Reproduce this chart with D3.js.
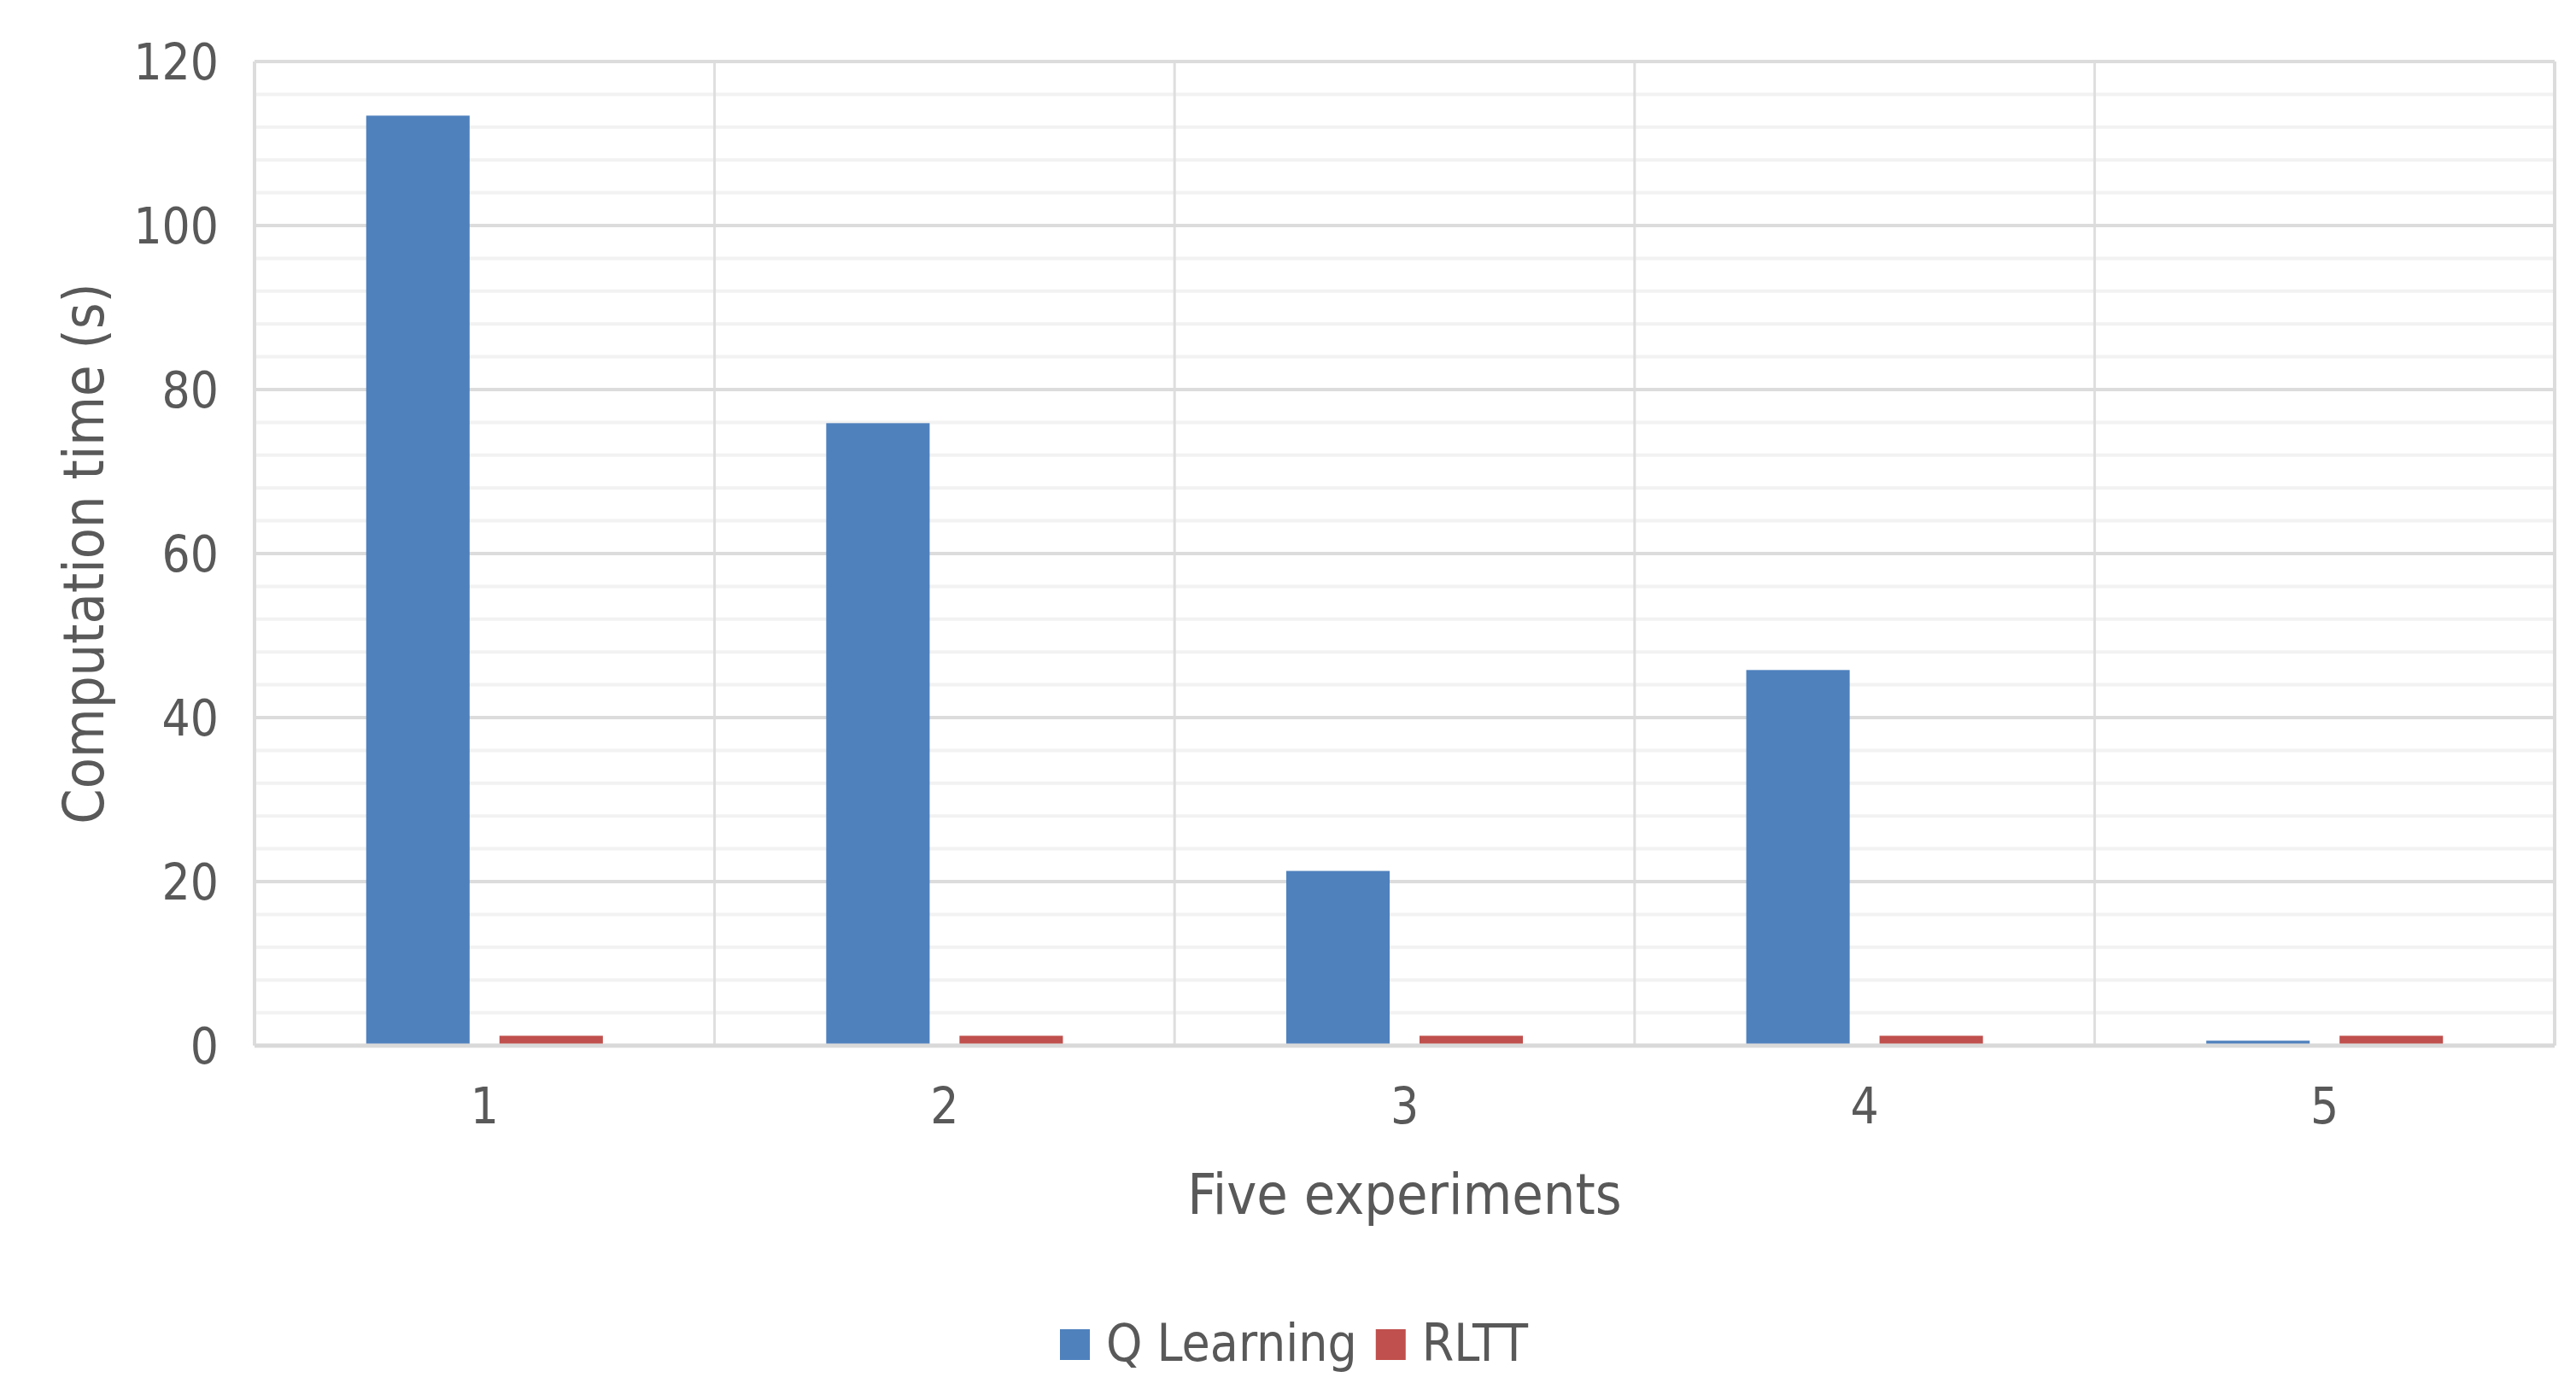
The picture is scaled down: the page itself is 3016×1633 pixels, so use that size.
<!DOCTYPE html>
<html>
<head>
    <script src="https://cdnjs.cloudflare.com/ajax/libs/d3/7.8.5/d3.min.js"></script>
    <style>
        body { margin: 0; background: #fff; }
        svg { display: block; }
        text {
            font-family: "DejaVu Sans Condensed", "Liberation Sans", sans-serif;
            fill: #595959;
        }
    </style>
</head>
<body>
    <svg width="3016" height="1633"></svg>
    <script>
        // Data
        const experiments = ["1", "2", "3", "4", "5"];
        const seriesNames = ["Q Learning", "RLTT"];
        const qLearning = [113.4, 75.9, 21.3, 45.8, 0.6];
        const rltt = [1.2, 1.2, 1.2, 1.2, 1.2];
        const yTicks = [0, 20, 40, 60, 80, 100, 120];
        const colors = ["#4f81bd", "#c0504d"];

        const svg = d3.select("svg");
        const margin = { left: 298, right: 25, top: 72, bottom: 409 };
        const width = 3016 - margin.left - margin.right;
        const height = 1633 - margin.top - margin.bottom;

        const g = svg.append("g")
            .attr("transform", `translate(${margin.left},${margin.top})`);

        // Scales
        const x = d3.scaleBand().domain(experiments).range([0, width]).padding(0);
        const xInner = d3.scaleBand().domain(seriesNames)
            .range([0, x.bandwidth()])
            .paddingInner(0.224)
            .paddingOuter(0.838);
        const y = d3.scaleLinear().domain([0, 120]).range([height, 0]);

        // Minor gridlines (every 4)
        g.append("g")
            .selectAll("line")
            .data(d3.range(0, 121, 4).filter(v => v % 20 !== 0))
            .join("line")
            .attr("x1", 0).attr("x2", width)
            .attr("y1", d => y(d)).attr("y2", d => y(d))
            .attr("stroke", "#f2f2f2")
            .attr("stroke-width", 4);

        // Vertical category separators
        g.append("g")
            .selectAll("line")
            .data(experiments.slice(1))
            .join("line")
            .attr("x1", d => x(d)).attr("x2", d => x(d))
            .attr("y1", 0).attr("y2", height)
            .attr("stroke", "#dedede")
            .attr("stroke-width", 3);

        // Major gridlines
        g.append("g")
            .selectAll("line")
            .data(yTicks)
            .join("line")
            .attr("x1", 0).attr("x2", width)
            .attr("y1", d => y(d)).attr("y2", d => y(d))
            .attr("stroke", "#dcdcdc")
            .attr("stroke-width", 4);

        // Left and right border lines
        g.append("line")
            .attr("x1", 0).attr("x2", 0).attr("y1", 0).attr("y2", height)
            .attr("stroke", "#dcdcdc").attr("stroke-width", 4);
        g.append("line")
            .attr("x1", width).attr("x2", width).attr("y1", 0).attr("y2", height)
            .attr("stroke", "#dcdcdc").attr("stroke-width", 4);

        // Bars
        const rows = experiments.map((e, i) => ({ exp: e, values: [qLearning[i], rltt[i]] }));
        const groups = g.append("g")
            .selectAll("g")
            .data(rows)
            .join("g")
            .attr("transform", d => `translate(${x(d.exp)},0)`);

        groups.selectAll("rect")
            .data(d => d.values.map((v, i) => ({ name: seriesNames[i], value: v, i })))
            .join("rect")
            .attr("x", d => xInner(d.name))
            .attr("width", xInner.bandwidth())
            .attr("y", d => y(d.value))
            .attr("height", d => y(0) - y(d.value))
            .attr("fill", d => colors[d.i]);

        // Bottom axis line on top of bars
        g.append("line")
            .attr("x1", 0).attr("x2", width)
            .attr("y1", y(0)).attr("y2", y(0))
            .attr("stroke", "#d9d9d9").attr("stroke-width", 5);

        // Y tick labels
        g.append("g")
            .selectAll("text")
            .data(yTicks)
            .join("text")
            .attr("x", -42)
            .attr("y", d => y(d))
            .attr("dy", "0.36em")
            .attr("text-anchor", "end")
            .style("font-size", "58px")
            .text(d => d);

        // X tick labels
        g.append("g")
            .selectAll("text")
            .data(experiments)
            .join("text")
            .attr("x", d => x(d) + x.bandwidth() / 2)
            .attr("y", height + 91)
            .attr("text-anchor", "middle")
            .style("font-size", "58px")
            .text(d => d);

        // Axis titles
        svg.append("text")
            .attr("x", margin.left + width / 2)
            .attr("y", 1421)
            .attr("text-anchor", "middle")
            .style("font-size", "66px")
            .text("Five experiments");

        svg.append("text")
            .attr("transform", `translate(121,${margin.top + height / 2}) rotate(-90)`)
            .attr("text-anchor", "middle")
            .style("font-size", "66px")
            .text("Computation time (s)");

        // Legend
        const legend = svg.append("g")
            .attr("transform", "translate(1241,1593)");
        let cursor = 0;
        seriesNames.forEach((name, i) => {
            legend.append("rect")
                .attr("x", cursor).attr("y", -37)
                .attr("width", 35).attr("height", 36)
                .attr("fill", colors[i]);
            const t = legend.append("text")
                .attr("x", cursor + 54).attr("y", 0)
                .style("font-size", "60px")
                .text(name);
            cursor += 54 + t.node().getComputedTextLength() + 22;
        });
    </script>
</body>
</html>
